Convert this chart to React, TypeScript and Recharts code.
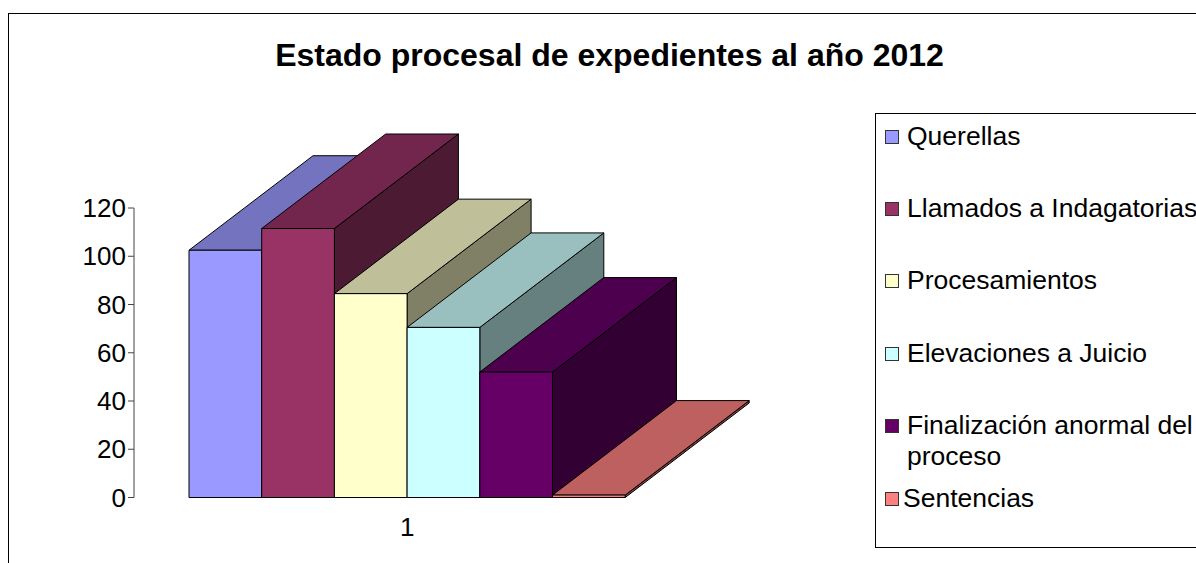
// 3D-look column chart: one category, six series, legend in a boxed panel.
import { Bar, BarChart, Legend, XAxis, YAxis } from "recharts";

const FONT = '"Liberation Sans", Arial, sans-serif';

const categories = ["1"];
const seriesNames = [
	"Querellas",
	"Llamados a Indagatorias",
	"Procesamientos",
	"Elevaciones a Juicio",
	"Finalización anormal del proceso",
	"Sentencias",
];
const seriesValues = [102.5, 111.5, 84.5, 70.5, 52, 1];
const seriesColors = ["#9999ff", "#993366", "#ffffcc", "#ccffff", "#660066", "#ff8080"];
const yTicks = [0, 20, 40, 60, 80, 100, 120];

const tableRows = categories.map((category) => {
	const row: Record<string, string | number> = { category };
	seriesNames.forEach((name, i) => {
		row[name] = seriesValues[i];
	});
	return row;
});

// extrusion of each column towards the back right
const DEPTH_X = 124;
const DEPTH_Y = -94.5;

function shade(hex: string, factor: number) {
	const channel = (at: number) => Math.round(parseInt(hex.slice(at, at + 2), 16) * factor);
	return `rgb(${channel(1)},${channel(3)},${channel(5)})`;
}

function Column3D({ x, y, width, height, fill }: any) {
	const right = x + width;
	const bottom = y + height;
	const top = `M${x},${y} L${x + DEPTH_X},${y + DEPTH_Y} L${right + DEPTH_X},${y + DEPTH_Y} L${right},${y} Z`;
	const side = `M${right},${y} L${right + DEPTH_X},${y + DEPTH_Y} L${right + DEPTH_X},${bottom + DEPTH_Y} L${right},${bottom} Z`;
	const front = `M${x},${y} L${right},${y} L${right},${bottom} L${x},${bottom} Z`;
	return (
		<g stroke="#000" strokeWidth={1} strokeLinejoin="round">
			<path d={side} fill={shade(fill, 0.5)} />
			<path d={top} fill={shade(fill, 0.75)} />
			<path d={front} fill={fill} />
		</g>
	);
}

const ROW_STEP = 72.4;

function LegendPanel({ payload }: any) {
	return (
		<div
			style={{
				position: "relative",
				width: 400,
				height: 435,
				boxSizing: "border-box",
				border: "1px solid #000",
				background: "#fff",
				fontFamily: FONT,
				fontSize: 26.5,
				lineHeight: "31px",
				color: "#000",
			}}
		>
			{(payload ?? []).map((entry: any, i: number) => (
				<div key={entry.value} style={{ position: "absolute", left: 0, top: 15.5 + i * ROW_STEP }}>
					<span
						style={{
							position: "absolute",
							left: 9,
							top: 0,
							width: 14,
							height: 14,
							boxSizing: "border-box",
							border: "1px solid #333",
							background: entry.color,
						}}
					/>
					<span
						style={{
							position: "absolute",
							left: i === 5 ? 27 : 31,
							top: -9,
							width: 296,
						}}
					>
						{entry.value}
					</span>
				</div>
			))}
		</div>
	);
}

export default function App() {
	return (
		<div
			style={{
				position: "absolute",
				left: 0,
				top: 0,
				width: 1196,
				height: 563,
				overflow: "hidden",
				background: "#fff",
			}}
		>
			<div
				style={{
					position: "absolute",
					left: 8,
					top: 13,
					width: 1400,
					height: 800,
					border: "1px solid #000",
				}}
			/>
			<BarChart
				width={1196}
				height={563}
				data={tableRows}
				barGap={0}
				barSize={72.7}
				margin={{ top: 208, right: 515.5, bottom: 25.5, left: 74 }}
				style={{ position: "absolute", left: 0, top: 0, fontFamily: FONT }}
			>
				<text x={609.5} y={66} textAnchor="middle" fontFamily={FONT} fontSize={32} fontWeight="bold" fill="#000">
					Estado procesal de expedientes al año 2012
				</text>
				<XAxis
					dataKey="category"
					height={40}
					axisLine={false}
					tickLine={false}
					tickMargin={14}
					tick={{ fontSize: 26, fill: "#000", fontFamily: FONT }}
				/>
				<YAxis
					width={60}
					domain={[0, 120]}
					ticks={yTicks}
					interval={0}
					tickSize={6}
					tickMargin={2}
					axisLine={{ stroke: "#444" }}
					tickLine={{ stroke: "#444" }}
					tick={{ fontSize: 26, fill: "#000", fontFamily: FONT }}
				/>
				{/* centred + vertical keeps the legend from reserving plot space */}
				<Legend
					layout="vertical"
					align="center"
					verticalAlign="middle"
					itemSorter={null}
					content={<LegendPanel />}
					wrapperStyle={{ left: 875, top: 113, width: 400, height: 435, margin: 0 }}
				/>
				{seriesNames.map((name, i) => (
					<Bar
						key={name}
						dataKey={name}
						fill={seriesColors[i]}
						shape={<Column3D />}
						isAnimationActive={false}
					/>
				))}
			</BarChart>
		</div>
	);
}
